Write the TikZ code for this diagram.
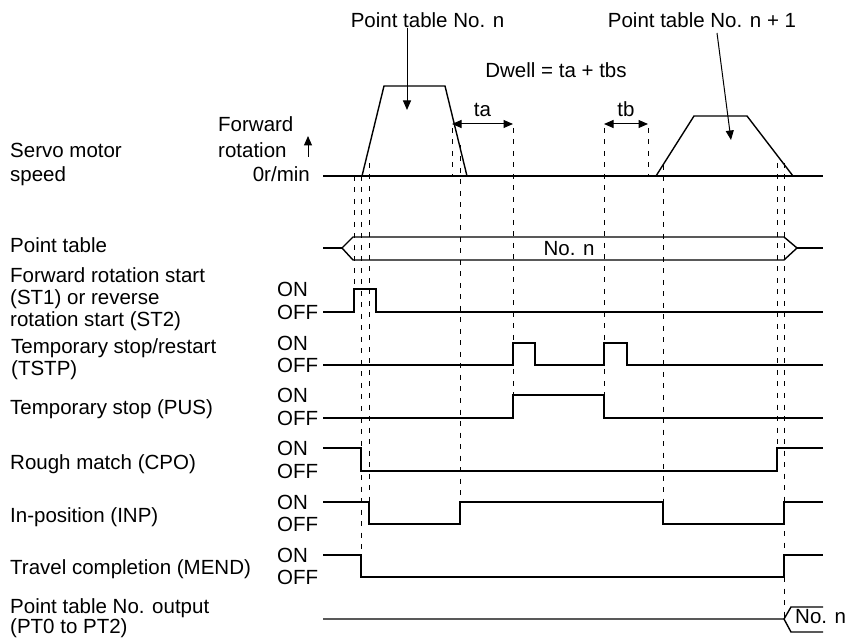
\documentclass[tikz,border=0pt]{standalone}
\usepackage{fontspec}
\setmainfont{Liberation Sans}
\usetikzlibrary{arrows.meta, positioning}

\begin{document}
\begin{tikzpicture}[x=1pt, y=-1pt,
    lbl/.style={font=\fontsize{20.5}{22}\selectfont, inner sep=0pt, anchor=base west, align=left},
    sig/.style={line width=1.4pt, line join=miter},
    guide/.style={line width=0.9pt, dash pattern=on 5pt off 6.5pt},
    ptr/.style={line width=1pt, -{Triangle[length=9.5pt, width=8pt]}},
    dimarrow/.style={line width=1pt, {Triangle[length=9.5pt, width=8pt]}-{Triangle[length=9.5pt, width=8pt]}}]
    \useasboundingbox (0,0) rectangle (847,639);

    % signal names (base = last line)
    \node [lbl, font=\fontsize{20.5}{24}\selectfont] (nSpeed) at (10,182) {Servo motor\\speed};
    \node [lbl, font=\fontsize{20.5}{26}\selectfont] (nFwd) at (218,158) {Forward\\rotation};
    \node [lbl, anchor=base east] (nZero) at (310,182) {0r/min};
    \node [lbl] (nTable) at (10,253) {Point table};
    \node [lbl] (nStart) at (10,327) {Forward rotation start\\(ST1) or reverse\\rotation start (ST2)};
    \node [lbl, font=\fontsize{20.5}{21}\selectfont] (nTstp) at (11,375) {Temporary stop/restart\\(TSTP)};
    \node [lbl] (nPus) at (10,414) {Temporary stop (PUS)};
    \node [lbl] (nCpo) at (10,469) {Rough match (CPO)};
    \node [lbl] (nInp) at (10,522) {In-position (INP)};
    \node [lbl] (nMend) at (10,574) {Travel completion (MEND)};
    \node [lbl, font=\fontsize{20.5}{20}\selectfont] (nOut) at (10,633) {Point table No. output\\(PT0 to PT2)};

    % ON / OFF levels
    \node [lbl, font=\fontsize{20.5}{23}\selectfont] (lvStart) at (277,319.5) {ON\\OFF};
    \node [lbl, font=\fontsize{20.5}{22}\selectfont] (lvTstp) at (277,372.5) {ON\\OFF};
    \node [lbl, font=\fontsize{20.5}{23}\selectfont] (lvPus) at (277,425.5) {ON\\OFF};
    \node [lbl, font=\fontsize{20.5}{23}\selectfont] (lvCpo) at (277,478.5) {ON\\OFF};
    \node [lbl, font=\fontsize{20.5}{22}\selectfont] (lvInp) at (277,531.5) {ON\\OFF};
    \node [lbl, font=\fontsize{20.5}{22}\selectfont] (lvMend) at (277,584.5) {ON\\OFF};

    % top texts
    \node [lbl, anchor=base] (nPtN) at (427.5,28) {Point table No. n};
    \node [lbl, anchor=base] (nPtN1) at (702,28) {Point table No. n + 1};
    \node [lbl, anchor=base] (nDwell) at (556,78) {Dwell = ta + tbs};
    \node [lbl, anchor=base] (nTa) at (482.5,117) {ta};
    \node [lbl, anchor=base] (nTb) at (626,117) {tb};

    % timing guides
    \draw [guide] (354,176) -- (354,289);
    \draw [guide] (361,176) -- (361,555);
    \draw [guide] (369,163) -- (369,502);
    \draw [guide] (452,128) -- (452,176);
    \draw [guide] (460,145) -- (460,502);
    \draw [guide] (513,128) -- (513,395);
    \draw [guide] (604,128) -- (604,395);
    \draw [guide] (648,128) -- (648,176);
    \draw [guide] (663,165) -- (663,502);
    \draw [guide] (777,163) -- (777,448);
    \draw [guide] (784,163) -- (784,619);

    % speed
    \draw [sig] (323,176) -- (823,176);
    \draw [sig] (362,176) -- (384,86) -- (445,86) -- (467,176);
    \draw [sig] (656,176) -- (694,116) -- (747,116) -- (793,176);
    \coordinate (upTail) at (308,157);
    \coordinate (upTip) at (308,136);
    \draw [ptr] (upTail) -- (upTip);
    \coordinate (tipN) at (407,110);
    \draw [ptr] (nPtN.south -| tipN) -- (tipN);
    \coordinate (tailN1) at (717,33);
    \coordinate (tipN1) at (731,140);
    \draw [ptr] (tailN1) -- (tipN1);
    \coordinate (ta1) at (452,124);
    \coordinate (ta2) at (513,124);
    \coordinate (tb1) at (604,124);
    \coordinate (tb2) at (648,124);
    \draw [dimarrow] (ta1) -- (ta2);
    \draw [dimarrow] (tb1) -- (tb2);

    % point table bus
    \draw [sig] (323,248) -- (342,248) (797,248) -- (823,248);
    \draw [sig] (342,248) -- (353,237) -- (784,237) -- (797,248) -- (784,260) -- (353,260) -- cycle;
    \node [lbl, anchor=base] (nBus) at (569,255.5) {No. n};

    % signals
    \draw [sig] (323,312) -| (354,289) -| (376,312) -- (823,312);
    \draw [sig] (323,365) -| (513,343) -| (535,365) -| (604,343) -| (627,365) -- (823,365);
    \draw [sig] (323,418) -| (513,395) -| (604,418) -- (823,418);
    \draw [sig] (323,448) -| (361,471) -| (777,448) -- (823,448);
    \draw [sig] (323,502) -| (369,524) -| (460,502) -| (663,524) -| (784,502) -- (823,502);
    \draw [sig] (323,555) -| (361,577) -| (784,555) -- (823,555);

    % point table output
    \draw [sig] (323,619) -- (784,619) -- (791,607) -- (823,607);
    \draw [sig] (784,619) -- (791,632) -- (823,632);
    \node [lbl] (nOutNo) at (795,623.5) {No. n};
\end{tikzpicture}
\end{document}
